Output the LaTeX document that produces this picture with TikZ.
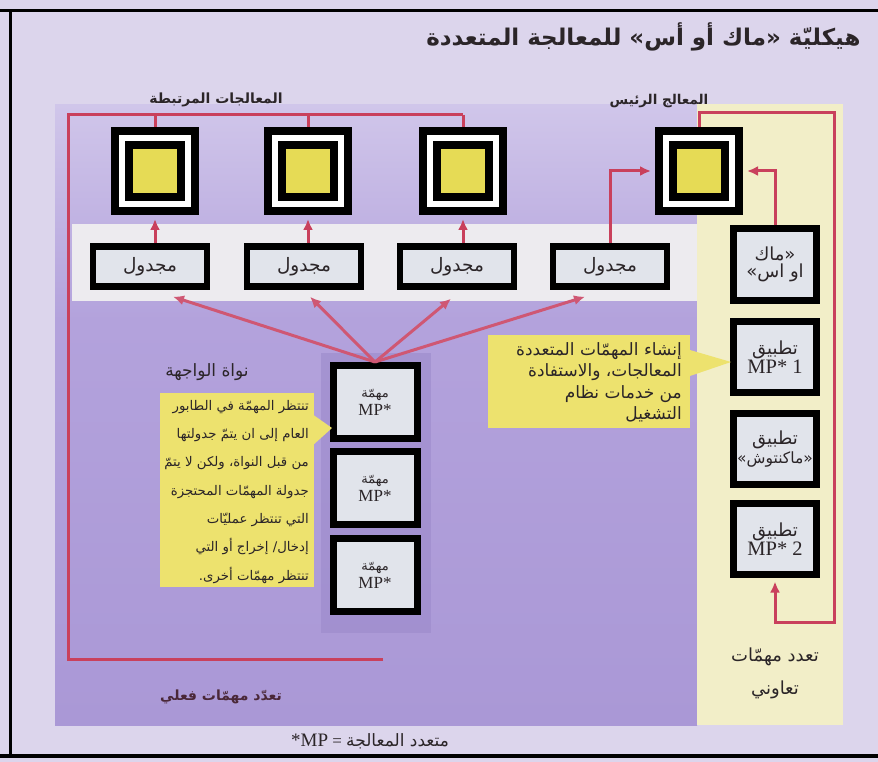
\documentclass[tikz,border=0pt]{standalone}
\usepackage{fontspec}
\setmainfont{Liberation Serif}
\newfontfamily\arabicfont[Script=Arabic]{DejaVu Sans}
\usetikzlibrary{arrows.meta,calc}
\TeXXeTstate=1
\newcommand\ar[1]{{\arabicfont\beginR #1\endR}}
\newcommand\fs[2]{\fontsize{#1}{#2}\selectfont}
\definecolor{bgl}{HTML}{DCD5EC}
\definecolor{purptop}{HTML}{D0C6EA}
\definecolor{purpmid}{HTML}{B3A2DC}
\definecolor{purpbot}{HTML}{AA98D6}
\definecolor{bandc}{HTML}{EDEBEF}
\definecolor{paley}{HTML}{F2EEC8}
\definecolor{redl}{HTML}{C9405C}
\definecolor{fanred}{HTML}{CF5773}
\definecolor{boxfill}{HTML}{E1E4EB}
\definecolor{coreyel}{HTML}{E6DB55}
\definecolor{callyel}{HTML}{EDE26E}
\definecolor{txt}{HTML}{2B2528}
\definecolor{maroon}{HTML}{4A2838}
\definecolor{shadowp}{HTML}{9C8ACB}
\begin{document}
\begin{tikzpicture}[x=1pt,y=-1pt,
  proc/.style={draw=black, line width=8pt, fill=white, minimum size=80pt, inner sep=0pt},
  core/.style={draw=black, line width=8pt, fill=coreyel, minimum size=52pt, inner sep=0pt},
  sched/.style={draw=black, line width=6.5pt, fill=boxfill, minimum width=114pt, minimum height=40pt, inner sep=0pt, text=txt, font=\fs{18.5}{20}},
  taskbox/.style={draw=black, line width=7pt, fill=boxfill, minimum width=84pt, minimum height=73pt, inner sep=0pt, align=center, text=txt},
  appbox/.style={draw=black, line width=7pt, fill=boxfill, minimum width=83pt, minimum height=71pt, inner sep=0pt, align=center, text=txt},
  link/.style={draw=redl, line width=3pt},
  arr/.style={link, -{Latex[length=11pt,width=10pt]}},
  fan/.style={draw=fanred, line width=3pt, -{Latex[length=11pt,width=10pt]}},
  callbox/.style={fill=callyel, inner sep=0pt, align=right, text=txt},
  lbl/.style={text=txt, inner sep=1pt}
]
\useasboundingbox (0,0) rectangle (878,762);
% backgrounds
\fill[bgl] (0,0) rectangle (878,762);
\shade[top color=purptop, bottom color=purpmid] (55,105) rectangle (697,320);
\shade[top color=purpmid, bottom color=purpbot] (55,320) rectangle (697,725);
\fill[paley] (697,104) rectangle (843,725);
\fill[bandc] (72,224) rectangle (697,301);
\fill[shadowp, opacity=0.6] (321,353) rectangle (431,633);
% frame
\draw[black, line width=3pt] (0,11) -- (878,11);
\draw[black, line width=3pt] (10,11) -- (10,756);
\draw[black, line width=4pt] (0,756) -- (878,756);
% title and labels
\node[anchor=east, text=txt, font=\fs{23}{26}\bfseries] (title) at (864,37) {\ar{هيكليّة «ماك أو أس» للمعالجة المتعددة}};
\node[lbl, font=\fs{14}{16}\bfseries] (lblassoc) at (216,100) {\ar{المعالجات المرتبطة}};
\node[lbl, font=\fs{13.5}{16}\bfseries] (lblmain) at (659,101) {\ar{المعالج الرئيس}};
% processors
\node[proc] (p1) at (155,171) {};
\node[core] (c1) at (p1.center) {};
\node[proc] (p2) at (308,171) {};
\node[core] (c2) at (p2.center) {};
\node[proc] (p3) at (463,171) {};
\node[core] (c3) at (p3.center) {};
\node[proc] (p0) at (699,171) {};
\node[core] (c0) at (p0.center) {};
% schedulers
\node[sched] (s1) at (150,266.5) {\ar{مجدول}};
\node[sched] (s2) at (304,266.5) {\ar{مجدول}};
\node[sched] (s3) at (457,266.5) {\ar{مجدول}};
\node[sched] (s4) at (610,266.5) {\ar{مجدول}};
% tasks
\node[taskbox] (t1) at (375,402) {\fs{13}{15}\ar{مهمّة}\\[2pt]{\fs{17}{18}MP*}};
\node[taskbox] (t2) at (375,488) {\fs{13}{15}\ar{مهمّة}\\[2pt]{\fs{17}{18}MP*}};
\node[taskbox] (t3) at (375,575) {\fs{13}{15}\ar{مهمّة}\\[2pt]{\fs{17}{18}MP*}};
% right column
\node[appbox] (mac) at (775,264.5) {\fs{18}{20}\ar{«ماك}\\[2pt]\fs{18}{20}\ar{او اس»}};
\node[appbox] (a1) at (775,357) {\fs{18}{20}\ar{تطبيق}\\[0pt]{\fs{20.5}{21}MP* 1}};
\node[appbox] (am) at (775,449) {\fs{18}{20}\ar{تطبيق}\\[2pt]\fs{15.5}{18}\ar{«ماكنتوش»}};
\node[appbox] (a2) at (775,539) {\fs{18}{20}\ar{تطبيق}\\[0pt]{\fs{20.5}{21}MP* 2}};
% callouts
\fill[callyel] (690,350) -- (731,362) -- (690,376) -- cycle;
\node[callbox, minimum width=202pt, minimum height=93pt] (cr) at (589,381.5) {};
\node[callbox, anchor=north east, font=\fs{17}{21.5}] (crt) at (682,342) {\ar{إنشاء المهمّات المتعددة}\\\ar{المعالجات، والاستفادة}\\\ar{من خدمات نظام}\\\ar{التشغيل}};
\fill[callyel] (312,414) -- (332,428) -- (312,446) -- cycle;
\node[callbox, minimum width=154pt, minimum height=194pt] (cl) at (237,490) {};
\node[callbox, anchor=north east, font=\fs{13.3}{28.3}] (clt) at (309,400) {\ar{تنتظر المهمّة في الطابور}\\\ar{العام إلى ان يتمّ جدولتها}\\\ar{من قبل النواة، ولكن لا يتمّ}\\\ar{جدولة المهمّات المحتجزة}\\\ar{التي تنتظر عمليّات}\\\ar{إدخال/ إخراج أو التي}\\\ar{تنتظر مهمّات أخرى.}};
% other labels
\node[lbl, font=\fs{17}{19}] (kern) at (207,372) {\ar{نواة الواجهة}};
\node[lbl, text=maroon, font=\fs{14}{16}\bfseries] (pre) at (221,697) {\ar{تعدّد مهمّات فعلي}};
\node[lbl, font=\fs{18}{20}] (coop1) at (775,657) {\ar{تعدد مهمّات}};
\node[lbl, font=\fs{18}{20}] (coop2) at (775,690) {\ar{تعاوني}};
\node[lbl, font=\fs{17}{19}] (foot) at (370,741) {{\fs{19}{20}*MP} = \ar{متعدد المعالجة}};
% connectors: left loop
\coordinate (lt) at (68,115);
\coordinate (lb) at (68,659);
\coordinate (le) at (383,659);
\draw[link] (le) -- (lb) -- (lt) -- (p3.north |- lt);
\draw[link] (p1.north |- lt) -- (p1.north);
\draw[link] (p2.north |- lt) -- (p2.north);
\draw[link] (p3.north |- lt) -- (p3.north);
% schedulers to processors
\draw[arr, shorten >=4pt] (p1.south |- s1.north) -- (p1.south);
\draw[arr, shorten >=4pt] (p2.south |- s2.north) -- (p2.south);
\draw[arr, shorten >=4pt] (p3.south |- s3.north) -- (p3.south);
\draw[arr, shorten >=4pt] (s4.north) -- (s4.north |- p0.west) -- (p0.west);
% task to schedulers
\coordinate (f1) at ($(s1.south)+(23,7)$);
\coordinate (f2) at ($(s2.south)+(6,7)$);
\coordinate (f3) at ($(s3.south)+(-6,9)$);
\coordinate (f4) at ($(s4.south)+(-25,7)$);
\draw[fan] (t1.north) -- (f1);
\draw[fan] (t1.north) -- (f2);
\draw[fan] (t1.north) -- (f3);
\draw[fan] (t1.north) -- (f4);
% right loop
\coordinate (rt) at (834,113);
\coordinate (rb) at (834,622);
\draw[arr, shorten >=3.5pt] (p0.north) -- (p0.north |- rt) -- (rt) -- (rb) -- (rb -| a2.south) -- (a2.south);
\draw[arr, shorten >=4pt] (mac.north) -- (mac.north |- p0.east) -- (p0.east);
\end{tikzpicture}
\end{document}
